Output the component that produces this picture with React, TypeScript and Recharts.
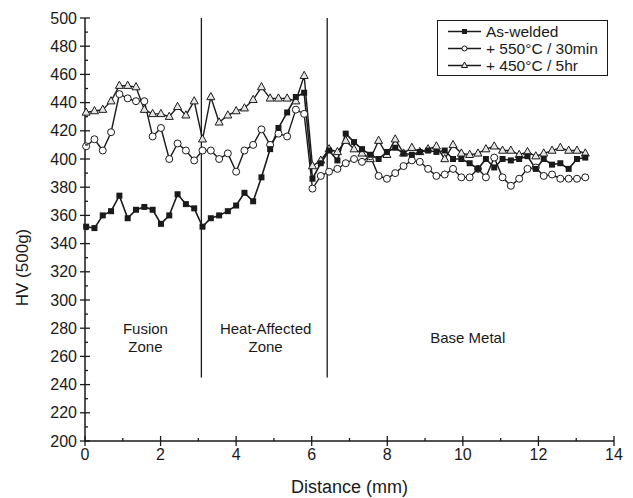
import React from 'react';
import { LineChart, Line, XAxis, YAxis, ReferenceLine, ReferenceDot, Legend } from 'recharts';

const distance = [0.03, 0.25, 0.47, 0.69, 0.91, 1.13, 1.35, 1.57, 1.79, 2.01, 2.23, 2.45, 2.67, 2.89, 3.11, 3.33, 3.55, 3.78, 4.0, 4.22, 4.45, 4.67, 4.9, 5.12, 5.35, 5.58, 5.8, 6.02, 6.24, 6.46, 6.68, 6.9, 7.12, 7.33, 7.55, 7.77, 7.99, 8.21, 8.43, 8.65, 8.86, 9.08, 9.3, 9.52, 9.74, 9.96, 10.18, 10.4, 10.61, 10.83, 11.05, 11.27, 11.49, 11.71, 11.93, 12.14, 12.36, 12.58, 12.8, 13.02, 13.24];
const asWelded = [352, 351, 360, 363, 374, 358, 364, 366, 364, 354, 360, 375, 368, 365, 352, 358, 360, 363, 367, 376, 370, 387, 407, 422, 433, 444, 447, 386, 397, 406, 399, 418, 412, 407, 403, 400, 405, 408, 404, 403, 405, 406, 405, 406, 400, 400, 397, 393, 400, 394, 400, 399, 400, 402, 393, 400, 396, 397, 393, 400, 401];
const pwht550 = [409, 414, 406, 419, 446, 443, 441, 441, 416, 422, 400, 411, 406, 399, 406, 406, 400, 404, 391, 406, 410, 421, 410, 418, 416, 435, 432, 379, 388, 391, 393, 397, 400, 398, 402, 388, 386, 390, 395, 399, 398, 393, 388, 389, 393, 387, 387, 393, 387, 401, 387, 381, 386, 393, 394, 388, 389, 386, 386, 386, 387];
const pwht450 = [433, 434, 435, 441, 452, 452, 451, 435, 432, 432, 430, 437, 431, 441, 414, 444, 426, 431, 434, 436, 442, 451, 443, 443, 443, 441, 459, 395, 399, 407, 405, 413, 407, 404, 400, 413, 403, 414, 404, 408, 405, 407, 409, 400, 410, 404, 403, 404, 407, 409, 406, 406, 403, 405, 402, 404, 406, 408, 406, 406, 404];

const seriesNames = ['As-welded', '+ 550°C / 30min', '+ 450°C / 5hr'];
const xTicks = [0, 1, 2, 3, 4, 5, 6, 7, 8, 9, 10, 11, 12, 13, 14];
const yTicks = [200, 210, 220, 230, 240, 250, 260, 270, 280, 290, 300, 310, 320, 330, 340, 350, 360, 370, 380, 390, 400, 410, 420, 430, 440, 450, 460, 470, 480, 490, 500];
const zoneBoundaries = [3.08, 6.41];
const zoneBoundaryBottom = 245;
const zoneLabels = [
  { x: 1.6, y: 273, lines: ['Fusion', 'Zone'] },
  { x: 4.78, y: 273, lines: ['Heat-Affected', 'Zone'] },
  { x: 10.13, y: 273, lines: ['Base Metal'] },
];

const data = distance.map((d, i) => ({ x: d, a: asWelded[i], b: pwht550[i], c: pwht450[i] }));

const FONT = '"Liberation Sans", Arial, sans-serif';
const INK = '#1a1a1a';

const SquareDot = (p: any) => {
  if (p.cx == null || p.cy == null) return null;
  return <rect x={p.cx - 3} y={p.cy - 3} width={6} height={6} fill={INK} />;
};
const CircleDot = (p: any) => {
  if (p.cx == null || p.cy == null) return null;
  return <circle cx={p.cx} cy={p.cy} r={3.5} fill="#fff" stroke={INK} strokeWidth={1} />;
};
const TriangleDot = (p: any) => {
  if (p.cx == null || p.cy == null) return null;
  const { cx, cy } = p;
  return <polygon points={`${cx},${cy - 4.5} ${cx + 4},${cy + 2.7} ${cx - 4},${cy + 2.7}`} fill="#e6e6e6" stroke={INK} strokeWidth={1} />;
};

const BottomTick = (p: any) => {
  const { x, y, payload } = p;
  const major = payload.value % 2 === 0;
  return (
    <g>
      <line x1={x} x2={x} y1={y - (major ? 5 : 3)} y2={y + (major ? 5 : 0)} stroke={INK} strokeWidth={1.3} />
      {major && (
        <text x={x} y={y + 19} textAnchor="middle" fontSize={16} fontFamily={FONT} fill={INK}>{payload.value}</text>
      )}
    </g>
  );
};
const TopTick = (p: any) => {
  const { x, y, payload } = p;
  const major = payload.value % 2 === 0;
  return <line x1={x} x2={x} y1={y - (major ? 5 : 0)} y2={y + (major ? 5 : 3)} stroke={INK} strokeWidth={1.3} />;
};
const LeftTick = (p: any) => {
  const { x, y, payload } = p;
  const major = payload.value % 20 === 0;
  return (
    <g>
      <line x1={x - (major ? 5 : 0)} x2={x + (major ? 5 : 3)} y1={y} y2={y} stroke={INK} strokeWidth={1.3} />
      {major && (
        <text x={x - 8} y={y + 5.5} textAnchor="end" fontSize={16} fontFamily={FONT} fill={INK}>{payload.value}</text>
      )}
    </g>
  );
};
const RightTick = (p: any) => {
  const { x, y, payload } = p;
  const major = payload.value % 20 === 0;
  return <line x1={x - (major ? 5 : 3)} x2={x + (major ? 5 : 0)} y1={y} y2={y} stroke={INK} strokeWidth={1.3} />;
};

const ZoneLabel = (lines: string[]) => (props: any) => {
  const vb = props.viewBox || {};
  const cx = vb.x + (vb.width || 0) / 2;
  const cy = vb.y + (vb.height || 0) / 2;
  const lh = 18;
  const start = cy - ((lines.length - 1) * lh) / 2;
  return (
    <g>
      {lines.map((l, i) => (
        <text key={i} x={cx} y={start + i * lh + 5} textAnchor="middle" fontSize={15} fontFamily={FONT} fill={INK}>{l}</text>
      ))}
    </g>
  );
};

const legendMarkers = [
  <rect key="s" x={14} y={5} width={5} height={5} fill={INK} />,
  <circle key="c" cx={16.5} cy={7.5} r={2.5} fill="#fff" stroke={INK} strokeWidth={1} />,
  <polygon key="t" points="16.5,4 19.5,9.5 13.5,9.5" fill="#e6e6e6" stroke={INK} strokeWidth={1} />,
];

const LegendBox = () => (
  <div style={{ border: `1px solid ${INK}`, background: '#fff', width: 171, height: 56, boxSizing: 'border-box', padding: '2px 0 0 10px', fontFamily: FONT, fontSize: 15.5, color: INK }}>
    {seriesNames.map((n, i) => (
      <div key={n} style={{ display: 'flex', alignItems: 'center', height: 17 }}>
        <svg width={33} height={15} style={{ marginRight: 5, flex: 'none' }}>
          <line x1={0} x2={33} y1={7.5} y2={7.5} stroke={INK} strokeWidth={1.3} />
          {legendMarkers[i]}
        </svg>
        <span style={{ whiteSpace: 'nowrap' }}>{n}</span>
      </div>
    ))}
  </div>
);

export default function App() {
  return (
    <div style={{ position: 'absolute', left: 0, top: 0, width: 633, height: 498, background: '#fff' }}>
      <LineChart width={633} height={498} data={data} margin={{ top: 18, right: 19, left: 0, bottom: 0 }}>
        <XAxis
          dataKey="x" type="number" domain={[0, 14]} ticks={xTicks} interval={0}
          height={57} tickSize={0} tickMargin={0} tickLine={false}
          axisLine={{ stroke: INK, strokeWidth: 1.5 }} tick={BottomTick}
          label={(p: any) => {
            const vb = p.viewBox;
            return <text x={vb.x + vb.width / 2} y={vb.y + 52} textAnchor="middle" fontSize={18} fontFamily={FONT} fill={INK}>Distance (mm)</text>;
          }}
        />
        <XAxis
          xAxisId="top" orientation="top" dataKey="x" type="number" domain={[0, 14]} ticks={xTicks} interval={0}
          height={0} tickSize={0} tickMargin={0} tickLine={false}
          axisLine={{ stroke: INK, strokeWidth: 1.5 }} tick={TopTick}
        />
        <YAxis
          type="number" domain={[200, 500]} ticks={yTicks} interval={0}
          width={85} tickSize={0} tickMargin={0} tickLine={false}
          axisLine={{ stroke: INK, strokeWidth: 1.5 }} tick={LeftTick}
          label={(p: any) => {
            const vb = p.viewBox;
            const cx = 22;
            const cy = vb.y + vb.height / 2 + 38;
            return <text x={cx} y={cy} transform={`rotate(-90 ${cx} ${cy})`} textAnchor="middle" dominantBaseline="central" fontSize={17} fontFamily={FONT} fill={INK}>HV (500g)</text>;
          }}
        />
        <YAxis
          yAxisId="right" orientation="right" type="number" domain={[200, 500]} ticks={yTicks} interval={0}
          width={0} tickSize={0} tickMargin={0} tickLine={false} allowDataOverflow
          axisLine={{ stroke: INK, strokeWidth: 1.5 }} tick={RightTick}
        />
        {zoneBoundaries.map((b) => (
          <ReferenceLine key={b} segment={[{ x: b, y: zoneBoundaryBottom }, { x: b, y: 500 }]} stroke={INK} strokeWidth={1.3} />
        ))}
        {zoneLabels.map((z) => (
          <ReferenceDot key={z.lines[0]} x={z.x} y={z.y} r={0} fill="none" stroke="none" label={ZoneLabel(z.lines)} />
        ))}
        <Line dataKey="c" name={seriesNames[2]} stroke={INK} strokeWidth={1.4} dot={<TriangleDot />} isAnimationActive={false} />
        <Line dataKey="b" name={seriesNames[1]} stroke={INK} strokeWidth={1.4} dot={<CircleDot />} isAnimationActive={false} />
        <Line dataKey="a" name={seriesNames[0]} stroke={INK} strokeWidth={1.6} dot={<SquareDot />} isAnimationActive={false} />
        <Legend
          layout="vertical" align="center" verticalAlign="middle"
          content={() => <LegendBox />}
          wrapperStyle={{ position: 'absolute', left: 437, top: 20, width: 171, height: 56 }}
        />
      </LineChart>
    </div>
  );
}
